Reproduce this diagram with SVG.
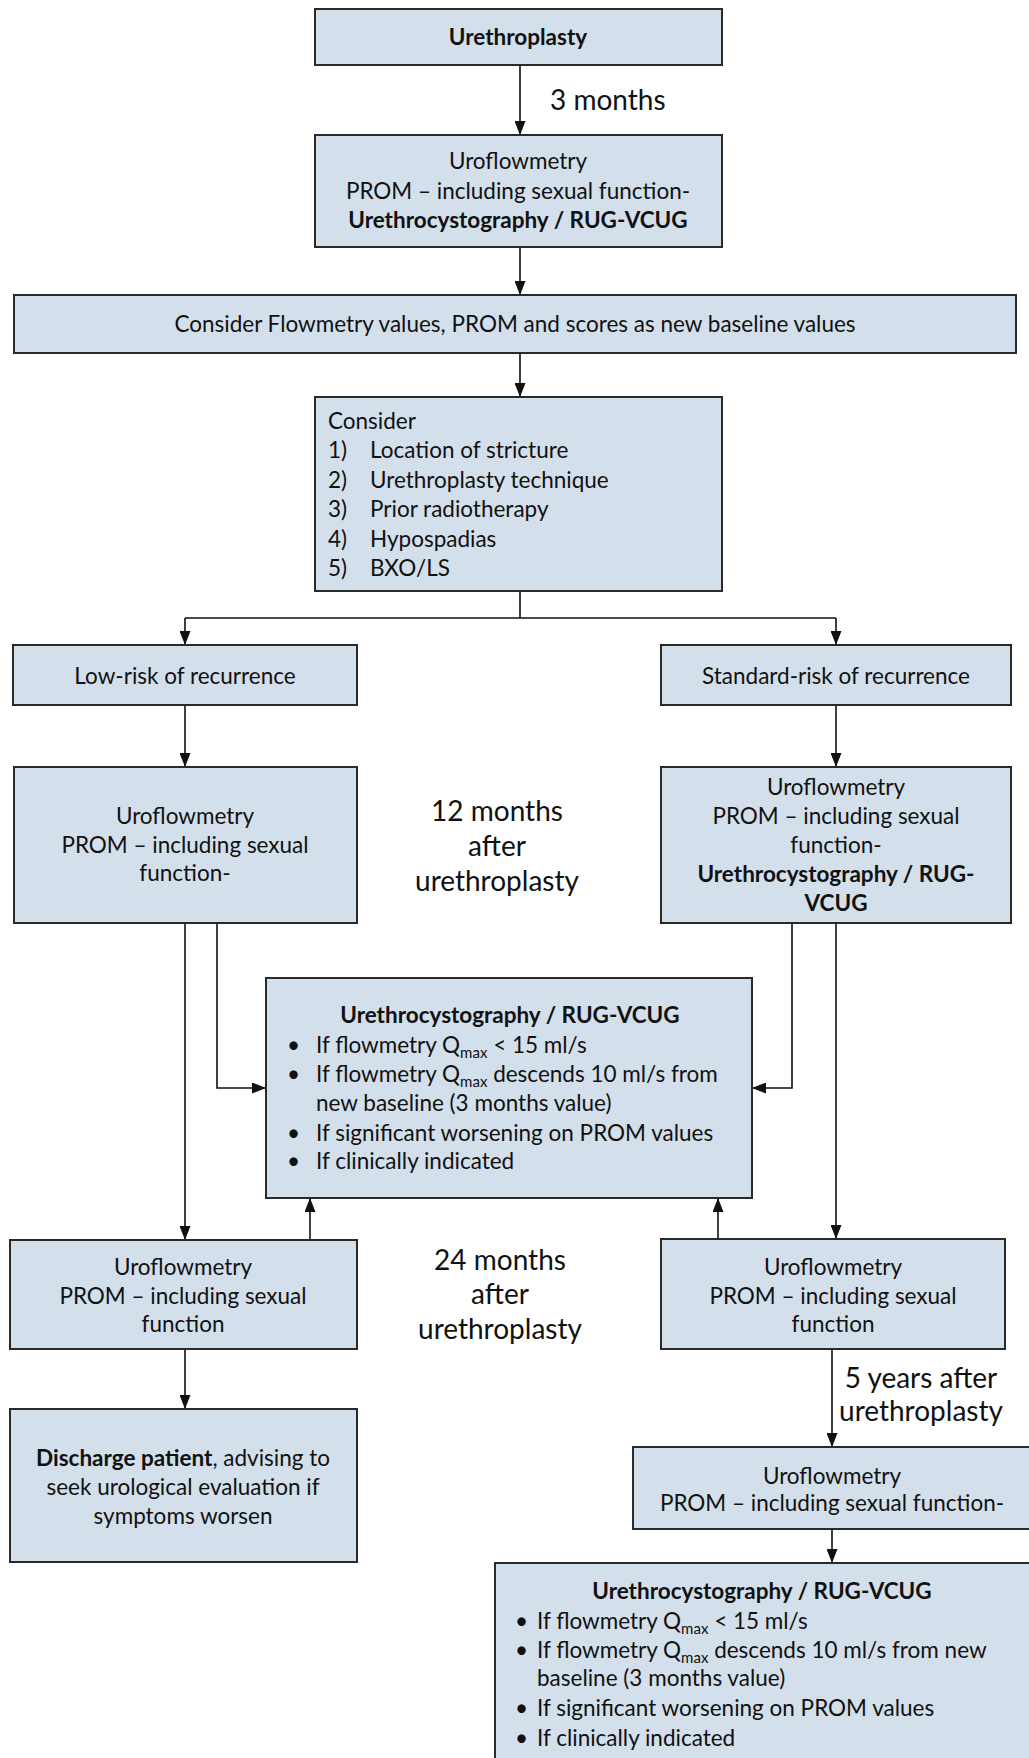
<svg xmlns="http://www.w3.org/2000/svg" width="1029" height="1758" viewBox="0 0 1029 1758">
<defs>
<marker id="ah" viewBox="0 0 14 11" refX="14" refY="5.5" markerWidth="14" markerHeight="11" markerUnits="userSpaceOnUse" orient="auto">
<path d="M0,0 L14,5.5 L0,11 z" fill="#111"/>
</marker>
</defs>
<style>
.box{fill:#d3dfeb;stroke:#2a2a2a;stroke-width:2}
text{font-family:Lato,"Liberation Sans",sans-serif;font-size:22.5px;fill:#111}
.c{text-anchor:middle}
.b{font-weight:bold}
.lbl{font-size:28px}
.sub{font-size:15px}
.ln{fill:none;stroke:#111;stroke-width:1.6}
.ar{fill:none;stroke:#111;stroke-width:1.6;marker-end:url(#ah)}
</style>
<rect width="1029" height="1758" fill="#fff"/>

<g id="connectors">
<path class="ar" d="M520,65 V135"/>
<path class="ar" d="M520,247 V295"/>
<path class="ar" d="M520,353 V397"/>
<path class="ln" d="M520,591 V618 M185,618 H836"/>
<path class="ar" d="M185,618 V645"/>
<path class="ar" d="M836,618 V645"/>
<path class="ar" d="M185,705 V767"/>
<path class="ar" d="M836,705 V767"/>
<path class="ar" d="M217,923 V1088 H266"/>
<path class="ar" d="M792,923 V1088 H752"/>
<path class="ar" d="M185,923 V1240"/>
<path class="ar" d="M836,923 V1239"/>
<path class="ar" d="M310,1240 V1198"/>
<path class="ar" d="M718,1239 V1198"/>
<path class="ar" d="M185,1349 V1409"/>
<path class="ar" d="M832,1349 V1447"/>
<path class="ar" d="M832,1529 V1563"/>
</g>

<g id="labels">
<text class="lbl" x="550" y="110">3 months</text>
<text class="lbl c" x="497" y="821">12 months</text>
<text class="lbl c" x="497" y="856">after</text>
<text class="lbl c" x="497" y="891">urethroplasty</text>
<text class="lbl c" x="500" y="1270">24 months</text>
<text class="lbl c" x="500" y="1304">after</text>
<text class="lbl c" x="500" y="1339">urethroplasty</text>
<text class="lbl c" x="921" y="1388">5 years after</text>
<text class="lbl c" x="921" y="1421">urethroplasty</text>
</g>

<g id="n-urethroplasty">
<rect class="box" x="315" y="9" width="407" height="56"/>
<text class="c b" x="518" y="45">Urethroplasty</text>
</g>

<g id="n-3m">
<rect class="box" x="315" y="135" width="407" height="112"/>
<text class="c" x="518" y="169">Uroflowmetry</text>
<text class="c" x="518" y="199">PROM – including sexual function-</text>
<text class="c b" x="518" y="228">Urethrocystography / RUG-VCUG</text>
</g>

<g id="n-baseline">
<rect class="box" x="14" y="295" width="1002" height="58"/>
<text class="c" x="515" y="332">Consider Flowmetry values, PROM and scores as new baseline values</text>
</g>

<g id="n-consider">
<rect class="box" x="315" y="397" width="407" height="194"/>
<text x="328" y="429">Consider</text>
<text x="328" y="458">1)</text><text x="370" y="458">Location of stricture</text>
<text x="328" y="488">2)</text><text x="370" y="488">Urethroplasty technique</text>
<text x="328" y="517">3)</text><text x="370" y="517">Prior radiotherapy</text>
<text x="328" y="547">4)</text><text x="370" y="547">Hypospadias</text>
<text x="328" y="576">5)</text><text x="370" y="576">BXO/LS</text>
</g>

<g id="n-lowrisk">
<rect class="box" x="13" y="645" width="344" height="60"/>
<text class="c" x="185" y="684">Low-risk of recurrence</text>
</g>

<g id="n-stdrisk">
<rect class="box" x="661" y="645" width="350" height="60"/>
<text class="c" x="836" y="684">Standard-risk of recurrence</text>
</g>

<g id="n-low-12">
<rect class="box" x="14" y="767" width="343" height="156"/>
<text class="c" x="185" y="824">Uroflowmetry</text>
<text class="c" x="185" y="853">PROM – including sexual</text>
<text class="c" x="185" y="881">function-</text>
</g>

<g id="n-std-12">
<rect class="box" x="661" y="767" width="350" height="156"/>
<text class="c" x="836" y="795">Uroflowmetry</text>
<text class="c" x="836" y="824">PROM – including sexual</text>
<text class="c" x="836" y="853">function-</text>
<text class="c b" x="836" y="882">Urethrocystography / RUG-</text>
<text class="c b" x="836" y="911">VCUG</text>
</g>

<g id="n-rug-mid">
<rect class="box" x="266" y="978" width="486" height="220"/>
<text class="c b" x="510" y="1023">Urethrocystography / RUG-VCUG</text>
<text x="287" y="1053">•</text><text x="316" y="1053">If flowmetry Q<tspan class="sub" dy="5">max</tspan><tspan dy="-5"> &lt; 15 ml/s</tspan></text>
<text x="287" y="1082">•</text><text x="316" y="1082">If flowmetry Q<tspan class="sub" dy="5">max</tspan><tspan dy="-5"> descends 10 ml/s from</tspan></text>
<text x="316" y="1111">new baseline (3 months value)</text>
<text x="287" y="1141">•</text><text x="316" y="1141">If significant worsening on PROM values</text>
<text x="287" y="1169">•</text><text x="316" y="1169">If clinically indicated</text>
</g>

<g id="n-low-24">
<rect class="box" x="10" y="1240" width="347" height="109"/>
<text class="c" x="183" y="1275">Uroflowmetry</text>
<text class="c" x="183" y="1304">PROM – including sexual</text>
<text class="c" x="183" y="1332">function</text>
</g>

<g id="n-std-24">
<rect class="box" x="661" y="1239" width="344" height="110"/>
<text class="c" x="833" y="1275">Uroflowmetry</text>
<text class="c" x="833" y="1304">PROM – including sexual</text>
<text class="c" x="833" y="1332">function</text>
</g>

<g id="n-discharge">
<rect class="box" x="10" y="1409" width="347" height="153"/>
<text class="c" x="183" y="1466"><tspan class="b">Discharge patient</tspan>, advising to</text>
<text class="c" x="183" y="1495">seek urological evaluation if</text>
<text class="c" x="183" y="1524">symptoms worsen</text>
</g>

<g id="n-std-5y">
<rect class="box" x="633" y="1447" width="410" height="82"/>
<text class="c" x="832" y="1484">Uroflowmetry</text>
<text class="c" x="832" y="1511">PROM – including sexual function-</text>
</g>

<g id="n-rug-5y">
<rect class="box" x="495" y="1563" width="550" height="210"/>
<text class="c b" x="762" y="1599">Urethrocystography / RUG-VCUG</text>
<text x="515" y="1629">•</text><text x="537" y="1629">If flowmetry Q<tspan class="sub" dy="5">max</tspan><tspan dy="-5"> &lt; 15 ml/s</tspan></text>
<text x="515" y="1658">•</text><text x="537" y="1658">If flowmetry Q<tspan class="sub" dy="5">max</tspan><tspan dy="-5"> descends 10 ml/s from new</tspan></text>
<text x="537" y="1686">baseline (3 months value)</text>
<text x="515" y="1716">•</text><text x="537" y="1716">If significant worsening on PROM values</text>
<text x="515" y="1746">•</text><text x="537" y="1746">If clinically indicated</text>
</g>
</svg>
